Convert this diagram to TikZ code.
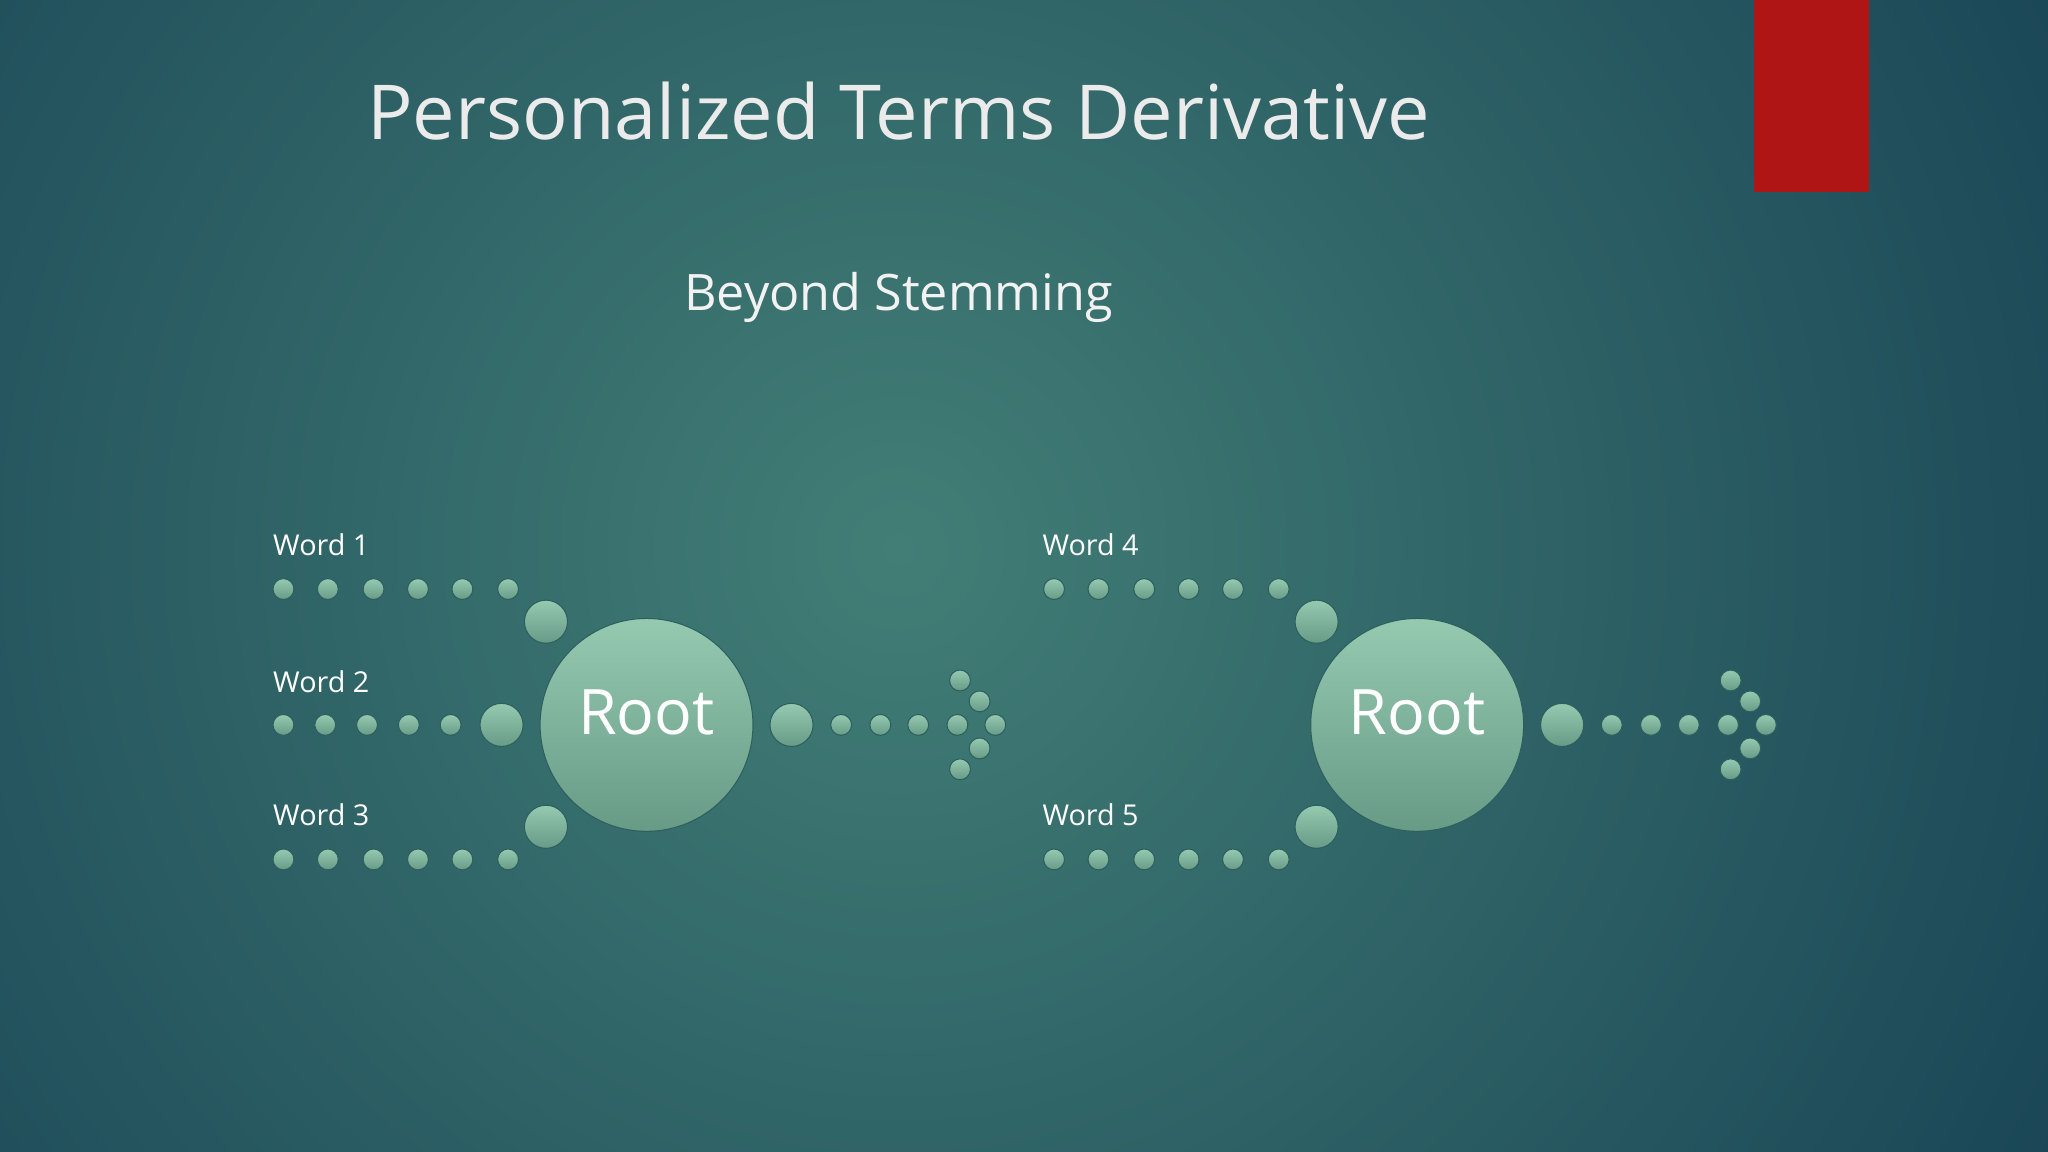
\documentclass[tikz,border=0pt]{standalone}
\usepackage{fontspec}
\setmainfont{Open Sans}
\begin{document}
\begin{tikzpicture}[x=1pt,y=-1pt,
  dot/.style={circle,inner sep=0pt,minimum size=#1,top color=dotTop,bottom color=dotBot,draw=dotEdge,line width=0.8pt},
  lbl/.style={anchor=west,text=white,font=\fontsize{22}{25}\selectfont,inner sep=0pt}]
\definecolor{bgIn}{HTML}{427E76}
\definecolor{bgOut}{HTML}{1A4656}
\definecolor{dotTop}{HTML}{95C9B0}
\definecolor{dotBot}{HTML}{679B86}
\definecolor{dotEdge}{HTML}{2C5F5E}
\definecolor{redbar}{HTML}{B01515}
\useasboundingbox (0,0) rectangle (1568,882);
\fill[bgOut] (0,0) rectangle (1568,882);
\shade[inner color=bgIn,outer color=bgOut] (688,420) circle (1000);
\fill[redbar] (1343,0) rectangle (1431,147);
\node[text=white!92!black,font=\fontsize{58}{64}\selectfont] (title) at (688,85) {Personalized Terms Derivative};
\node[text=white!95!black,font=\fontsize{38.5}{44}\selectfont] (sub) at (688,228) {Beyond Stemming};
\foreach \i/\x in {1/217,2/251,3/286,4/320,5/354,6/389}{
  \node[dot=16pt] (a\i) at (\x,451) {};
  \node[dot=16pt] (c\i) at (\x,658) {};
  \node[dot=16pt] (d\i) at (\x+590,451) {};
  \node[dot=16pt] (e\i) at (\x+590,658) {};}
\foreach \i/\x in {1/217,2/249,3/281,4/313,5/345}{\node[dot=16pt] (b\i) at (\x,555) {};}
\node[dot=33pt] (ab) at (418,476) {};
\node[dot=33pt] (bb) at (384,555) {};
\node[dot=33pt] (cb) at (418,633) {};
\node[dot=33pt] (db) at (1008,476) {};
\node[dot=33pt] (eb) at (1008,633) {};
\foreach \r/\cx in {r1/495,r2/1085}{
  \node[dot=163pt,text=white,font=\fontsize{48}{52}\selectfont] (\r) at (\cx,555) {\raisebox{20pt}{Root}};
  \node[dot=33pt] (\r o) at (\cx+111,555) {};
  \foreach \j/\dx/\dy in {1/149/0,2/179/0,3/208/0,4/238/0,5/267/0,6/255/-18,7/240/-34,8/255/18,9/240/34}{
    \node[dot=16pt] (\r a\j) at (\cx+\dx,555+\dy) {};}
}
\node[lbl] (w1) at (209,417) {Word 1};
\node[lbl] (w2) at (209,522) {Word 2};
\node[lbl] (w3) at (209,624) {Word 3};
\node[lbl] (w4) at (798,417) {Word 4};
\node[lbl] (w5) at (798,624) {Word 5};
\end{tikzpicture}
\end{document}
